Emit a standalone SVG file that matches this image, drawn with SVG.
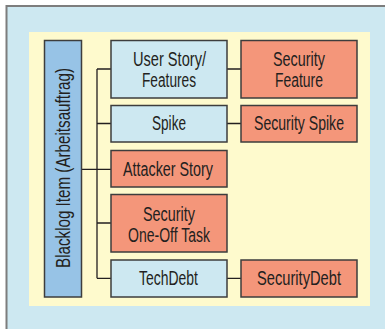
<svg xmlns="http://www.w3.org/2000/svg" width="385" height="329" viewBox="0 0 385 329">
<style>
.box{stroke:#3d3d3d;stroke-width:1.5}
.lb{fill:#cde8f1}
.sa{fill:#f4967a}
.t{font-family:"Liberation Sans",Arial,sans-serif;font-size:20px;fill:#231f20;text-anchor:middle}
.c{stroke:#231f20;stroke-width:1.3;fill:none}
</style>
<rect x="6.5" y="6" width="400" height="340" fill="#cde8f1" stroke="#7d7d7d" stroke-width="2"/>
<rect x="29" y="32" width="341" height="274" fill="#fefacd"/>
<g id="connectors">
<path class="c" d="M82 169.3H97M97 69V278.3M97 69H111M97 123.5H111M97 169.3H111M97 223H111M97 278.3H111M227 69H241M227 123.5H241M227 278.3H241"/>
</g>
<g id="backlog">
<rect class="box" x="44.5" y="40.5" width="37" height="256.5" fill="#97c3e6"/>
<text class="t" transform="translate(70 168) rotate(-90)" x="0" y="0" textLength="200" lengthAdjust="spacingAndGlyphs">Blacklog Item (Arbeitsauftrag)</text>
</g>
<g id="userstory">
<rect class="box lb" x="111" y="40.5" width="116" height="57.5"/>
<text class="t" x="169.5" y="65.5" textLength="73" lengthAdjust="spacingAndGlyphs">User Story/</text>
<text class="t" x="169" y="86.5" textLength="54" lengthAdjust="spacingAndGlyphs">Features</text>
</g>
<g id="secfeature">
<rect class="box sa" x="241" y="40.5" width="116" height="57.5"/>
<text class="t" x="299" y="65.5" textLength="52" lengthAdjust="spacingAndGlyphs">Security</text>
<text class="t" x="299" y="86.5" textLength="48" lengthAdjust="spacingAndGlyphs">Feature</text>
</g>
<g id="spike">
<rect class="box lb" x="111" y="105.5" width="116" height="36.5"/>
<text class="t" x="169" y="130" textLength="34" lengthAdjust="spacingAndGlyphs">Spike</text>
</g>
<g id="secspike">
<rect class="box sa" x="241" y="105.5" width="116" height="36.5"/>
<text class="t" x="299" y="130" textLength="90" lengthAdjust="spacingAndGlyphs">Security Spike</text>
</g>
<g id="attacker">
<rect class="box sa" x="111" y="150.5" width="116" height="36.5"/>
<text class="t" x="168" y="175.5" textLength="90" lengthAdjust="spacingAndGlyphs">Attacker Story</text>
</g>
<g id="oneoff">
<rect class="box sa" x="111" y="194.5" width="116" height="57.5"/>
<text class="t" x="169" y="220.5" textLength="52" lengthAdjust="spacingAndGlyphs">Security</text>
<text class="t" x="169" y="242" textLength="82" lengthAdjust="spacingAndGlyphs">One-Off Task</text>
</g>
<g id="techdebt">
<rect class="box lb" x="111" y="260" width="116" height="37"/>
<text class="t" x="168.5" y="284.5" textLength="59" lengthAdjust="spacingAndGlyphs">TechDebt</text>
</g>
<g id="secdebt">
<rect class="box sa" x="241" y="260" width="116" height="37"/>
<text class="t" x="299" y="284.5" textLength="84" lengthAdjust="spacingAndGlyphs">SecurityDebt</text>
</g>
</svg>
